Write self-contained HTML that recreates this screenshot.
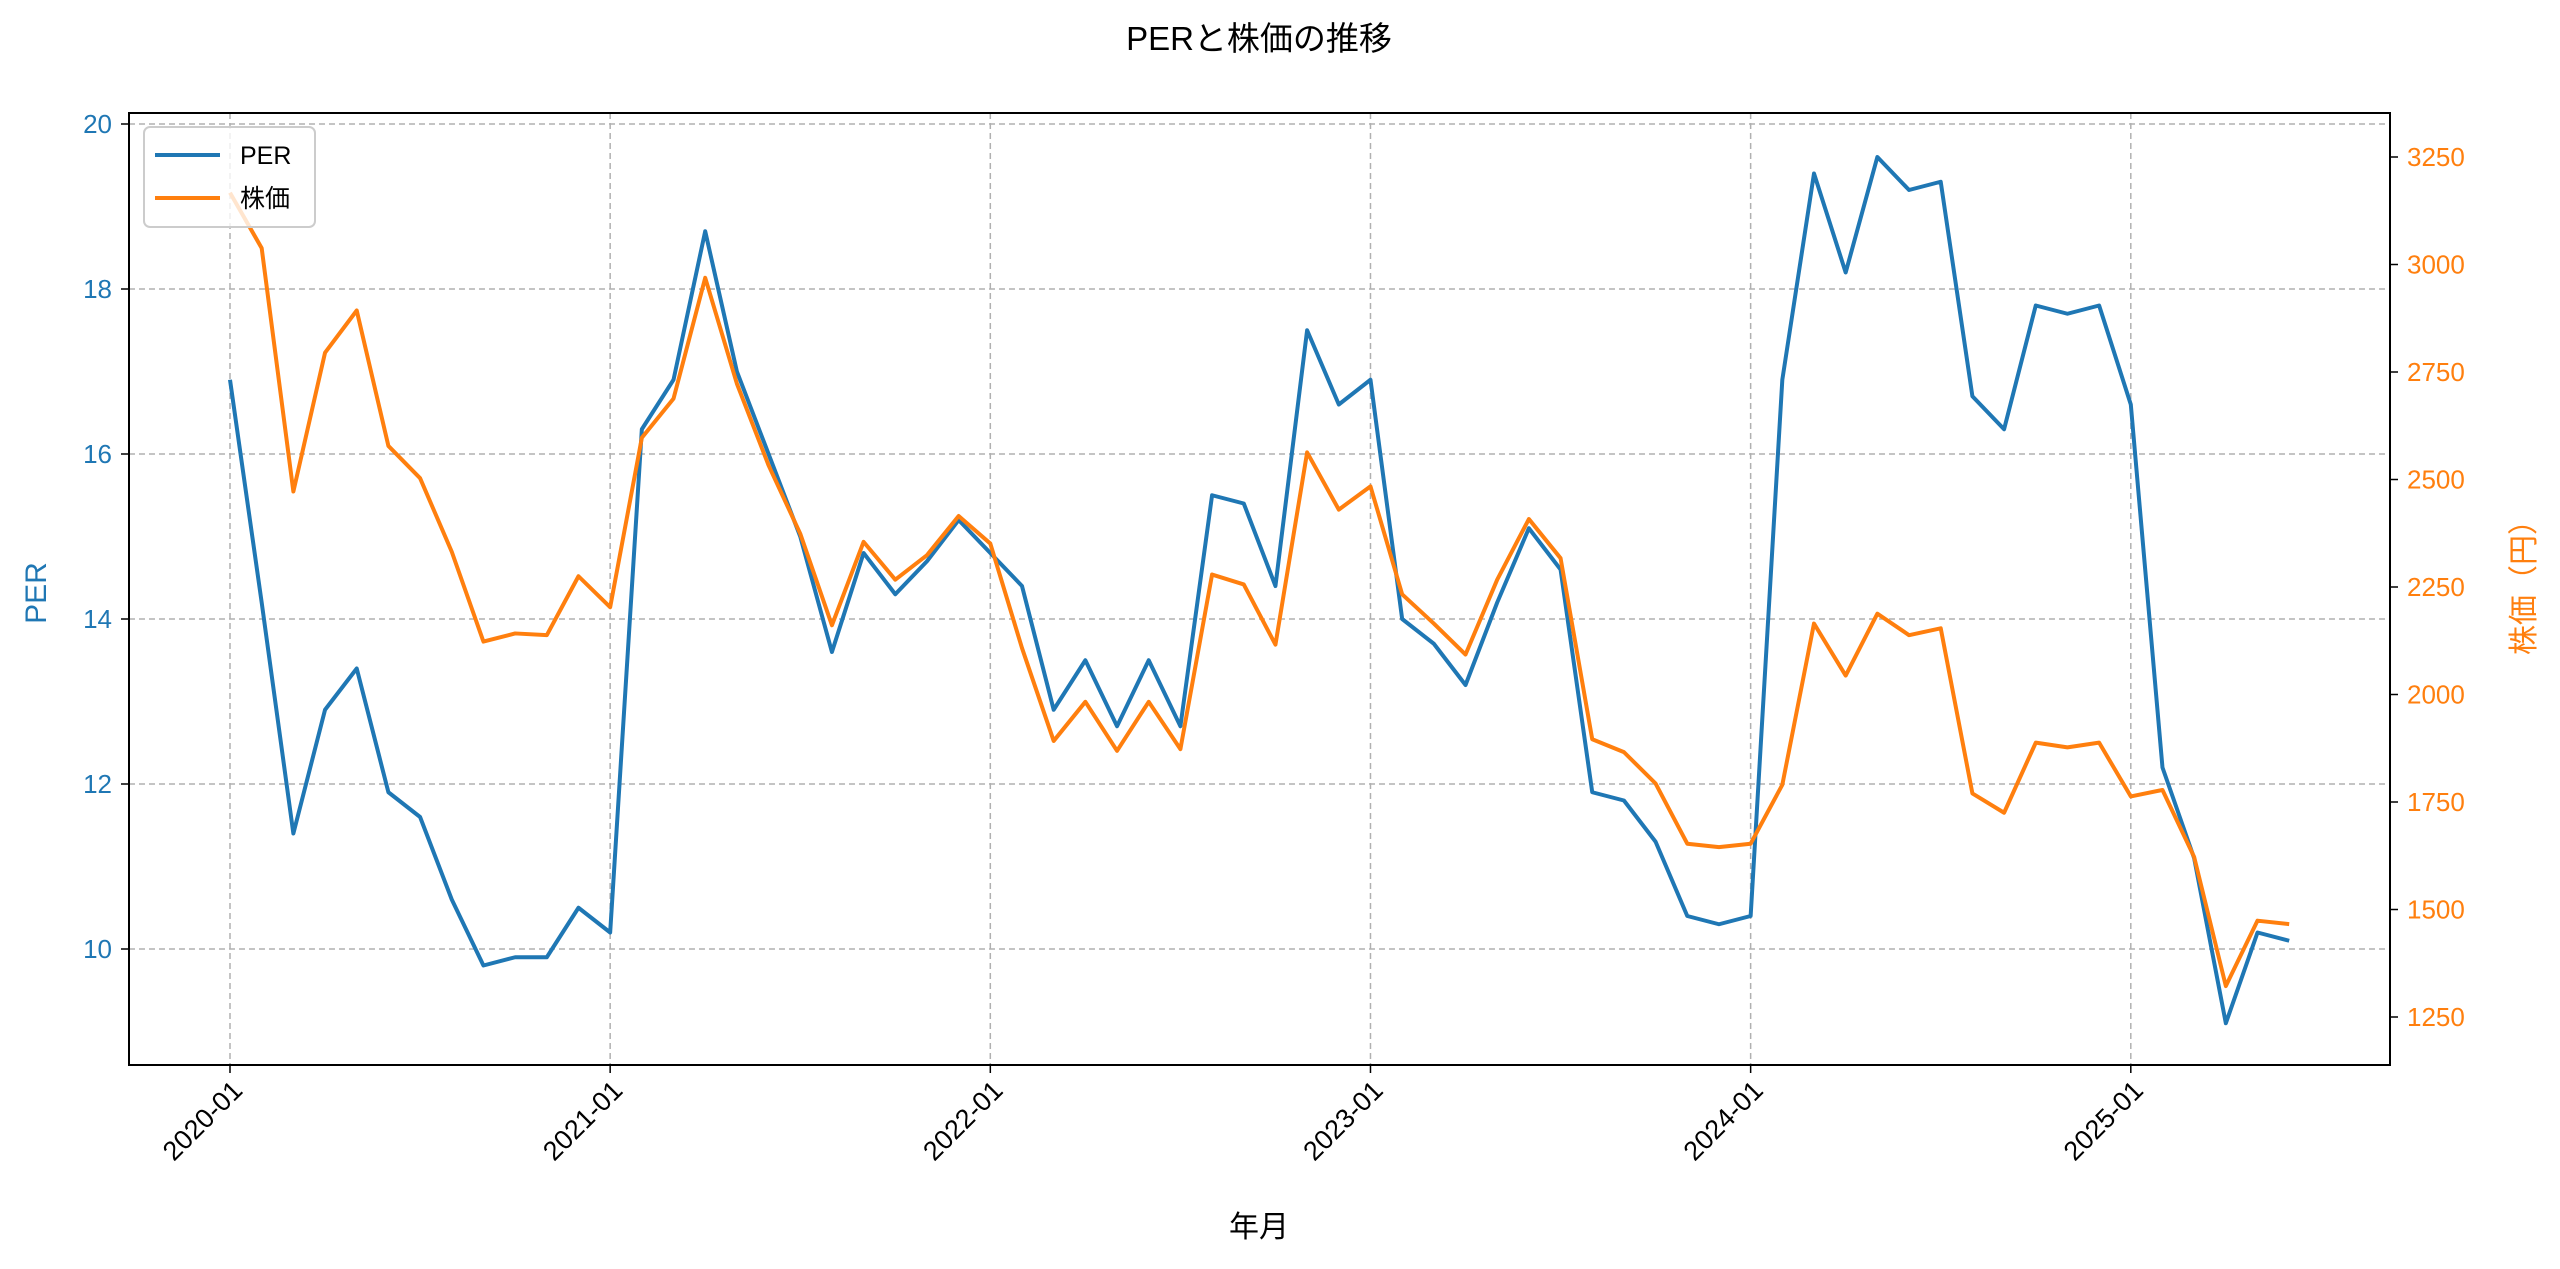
<!DOCTYPE html>
<html><head><meta charset="utf-8"><style>
html,body{margin:0;padding:0;background:#fff;}
svg{display:block;font-family:"Liberation Sans","Noto Sans CJK JP",sans-serif;}
</style></head><body>
<svg id="chart" width="2560" height="1269" viewBox="0 0 2560 1269">
<text x="1259" y="50" font-size="33" text-anchor="middle" fill="#000">PERと株価の推移</text>
<g id="grid"></g>
<g id="series"></g>
<rect x="129" y="113" width="2261" height="952" fill="none" stroke="#000" stroke-width="2"/>
<g id="axes"></g>
<text x="1259" y="1237" font-size="30" text-anchor="middle" fill="#000">年月</text>
<text transform="translate(46,593) rotate(-90)" font-size="30" text-anchor="middle" fill="#1f77b4">PER</text>
<text transform="translate(2534,580) rotate(-90)" font-size="30" text-anchor="middle" fill="#ff7f0e">株価（円）</text>
<g>
<rect x="144" y="127" width="171" height="100" rx="6" fill="#fff" fill-opacity="0.8" stroke="#ccc" stroke-width="2"/>
<line x1="155" y1="155" x2="220" y2="155" stroke="#1f77b4" stroke-width="4"/>
<text x="240" y="164" font-size="25" fill="#000">PER</text>
<line x1="155" y1="198" x2="220" y2="198" stroke="#ff7f0e" stroke-width="4"/>
<text x="240" y="207" font-size="25" fill="#000">株価</text>
</g>
</svg>
<script>
const perValues=[16.9,14.2,11.4,12.9,13.4,11.9,11.6,10.6,9.8,9.9,9.9,10.5,
10.2,16.3,16.9,18.7,17.0,16.0,15.0,13.6,14.8,14.3,14.7,15.2,
14.8,14.4,12.9,13.5,12.7,13.5,12.7,15.5,15.4,14.4,17.5,16.6,
16.9,14.0,13.7,13.2,14.2,15.1,14.6,11.9,11.8,11.3,10.4,10.3,
10.4,16.9,19.4,18.2,19.6,19.2,19.3,16.7,16.3,17.8,17.7,17.8,
16.6,12.2,11.1,9.1,10.2,10.1];
const priceValues=[3167,3038,2472,2795,2893,2578,2503,2332,2123,2142,2138,2275,
2203,2597,2688,2969,2723,2533,2374,2161,2355,2267,2324,2415,
2351,2108,1892,1983,1869,1983,1873,2279,2256,2116,2563,2430,
2484,2233,2165,2093,2267,2408,2317,1896,1866,1793,1653,1645,
1653,1790,2165,2044,2188,2138,2154,1770,1725,1888,1877,1888,
1763,1778,1622,1322,1474,1466];
const xTickLabels=["2020-01","2021-01","2022-01","2023-01","2024-01","2025-01"];
const leftTicks=[10,12,14,16,18,20];
const rightTicks=[1250,1500,1750,2000,2250,2500,2750,3000,3250];

const NS="http://www.w3.org/2000/svg";
const X0=230, MONTH=31.68;
const xs=i=>X0+i*MONTH;
const yL=v=>949-(v-10)*82.5;
const yR=v=>1017-(v-1250)*0.43;
function mk(tag,attrs,parent){const e=document.createElementNS(NS,tag);for(const k in attrs)e.setAttribute(k,attrs[k]);parent.appendChild(e);return e;}
const grid=document.getElementById('grid'),axes=document.getElementById('axes'),series=document.getElementById('series');
xTickLabels.forEach((lab,k)=>{
 const x=xs(k*12);
 const g=mk('line',{x1:x,y1:113,x2:x,y2:1065,stroke:'#b0b0b0','stroke-width':1.5,'stroke-dasharray':'6,4'},grid);
 
 
 const t=mk('line',{x1:x,y1:1065,x2:x,y2:1073,stroke:'#000','stroke-width':1.5},axes);
 
 
 const tx=mk('text',{transform:`translate(${x+14},${1092}) rotate(-45)`,'font-size':27,'text-anchor':'end',fill:'#000'},axes);
 tx.textContent=lab;
 
 
});
leftTicks.forEach(v=>{
 const y=yL(v);
 const g=mk('line',{x1:129,y1:y,x2:2390,y2:y,stroke:'#b0b0b0','stroke-width':1.5,'stroke-dasharray':'6,4'},grid);
 
 
 const t=mk('line',{x1:121,y1:y,x2:129,y2:y,stroke:'#000','stroke-width':1.5},axes);
 
 
 const tx=mk('text',{x:112,y:y+9,'font-size':26,'text-anchor':'end',fill:'#1f77b4'},axes);
 tx.textContent=v;
 
 
});
rightTicks.forEach(v=>{
 const y=yR(v);
 const t=mk('line',{x1:2390,y1:y,x2:2398,y2:y,stroke:'#000','stroke-width':1.5},axes);
 
 
 const tx=mk('text',{x:2407,y:y+9,'font-size':26,'text-anchor':'start',fill:'#ff7f0e'},axes);
 tx.textContent=v;
 
 
});
const p1=mk('polyline',{points:perValues.map((v,i)=>xs(i)+','+yL(v)).join(' '),fill:'none',stroke:'#1f77b4','stroke-width':4,'stroke-linejoin':'round'},series);


const p2=mk('polyline',{points:priceValues.map((v,i)=>xs(i)+','+yR(v)).join(' '),fill:'none',stroke:'#ff7f0e','stroke-width':4,'stroke-linejoin':'round'},series);


</script>
</body></html>
